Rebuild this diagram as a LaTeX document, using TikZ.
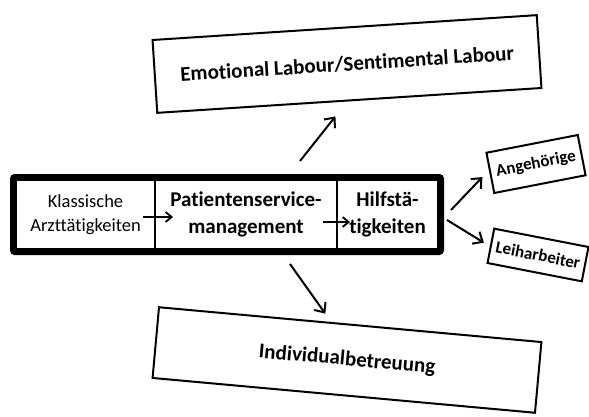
\documentclass[tikz,border=0pt]{standalone}
\usepackage{fontspec}
\setmainfont{Carlito}[RawFeature={-liga}]
\usepackage{tikz}
\usetikzlibrary{%
        arrows.meta,
        positioning,
        fit
    }
\tikzset{%
    cell/.style={draw, line width=1.5pt, outer sep=0pt, minimum height=69pt,
        align=center, inner sep=0pt},
    label box/.style={draw, line width=2pt, align=center},
    arr/.style={line width=2pt, -{Straight Barb[length=8pt, width=14pt]}},
    small arr/.style={line width=1.8pt, -{Straight Barb[length=6pt, width=10pt]}}
}

\begin{document}
\begin{tikzpicture}[x=1pt, y=1pt]

    \useasboundingbox (0, 0) rectangle (589, 416);

    % the three steps in the frame
    \node[cell, minimum width=139pt, anchor=north west,
        font=\fontsize{18.5}{24}\selectfont] (klass) at (16, 236)
        {Klassische\\Arzttätigkeiten};
    \node[cell, minimum width=182pt, right=0pt of klass,
        font=\fontsize{21}{27}\selectfont\bfseries] (patient)
        {Patientenservice-\\management};
    \node[cell, minimum width=101pt, right=0pt of patient,
        font=\fontsize{21}{27}\selectfont\bfseries] (hilf)
        {Hilfstä-\\tigkeiten};
    \node[draw, line width=6pt, inner sep=3pt, rounded corners=2pt,
        fit=(klass)(hilf)] (frame) {};

    \draw[small arr] ([shift={(-12,-2.5)}] klass.east) --
        ([shift={(18,-2.5)}] patient.west);
    \draw[small arr] ([shift={(-14,-7.5)}] patient.east) --
        ([shift={(13,-7.5)}] hilf.west);

    % boxes round the frame
    \node[label box, rotate=3.7, minimum width=385pt, minimum height=73pt,
        font=\fontsize{21}{24}\selectfont\bfseries] (emotional) at (347, 352)
        {Emotional Labour/Sentimental Labour};
    \node[label box, rotate=-5.2, minimum width=384pt, minimum height=71pt,
        font=\fontsize{21}{24}\selectfont\bfseries] (individual) at (347, 56)
        {Individualbetreuung};
    \node[label box, rotate=11, minimum width=93pt, minimum height=41pt,
        font=\fontsize{17}{20}\selectfont\bfseries] (angehoerige) at (536, 252)
        {Angehörige};
    \node[label box, rotate=-11, minimum width=96pt, minimum height=35pt,
        font=\fontsize{17}{20}\selectfont\bfseries] (leih) at (538, 161)
        {Leiharbeiter};

    \draw[arr] ([shift={(73,13)}] frame.north) --
        ([shift={(-14,-15)}] emotional.south);
    \draw[arr] ([shift={(63,-9)}] frame.south) --
        ([shift={(-25,10)}] individual.north);
    \draw[arr] ([shift={(7,4.5)}] frame.east) --
        ([shift={(-7,-4)}] angehoerige.west);
    \draw[arr] ([shift={(3,-5.5)}] frame.east) --
        ([shift={(-6,3)}] leih.west);

\end{tikzpicture}
\end{document}
